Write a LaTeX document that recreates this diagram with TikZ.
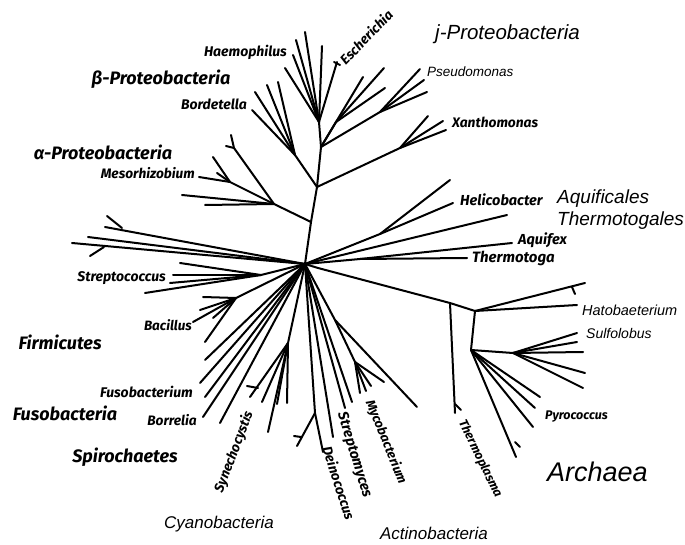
\documentclass[tikz,border=0pt]{standalone}
\usepackage{fontspec}
\setmainfont{Liberation Sans}
\newfontfamily\scanfont{Fira Sans}
\usetikzlibrary{calc}
\tikzset{
    branch/.style={line width=2pt, line cap=round, line join=round},
    taxon/.style={font=\scanfont\bfseries\itshape\fontsize{#1}{#1}\selectfont, inner sep=0pt},
    clade/.style={font=\itshape\fontsize{#1}{#1}\selectfont, inner sep=0pt},
}

\begin{document}
\begin{tikzpicture}[x=1pt, y=-1pt]
    \useasboundingbox (0,0) rectangle (685,545);

    % ── Branch points ──────────────────────────────────────────────────────
    \coordinate (hub) at (305,264);
    \coordinate (rhub) at (318,268);
    \coordinate (alj) at (311,222);
    \coordinate (bgj) at (317,187);
    \coordinate (gmj) at (321,147);
    \coordinate (gam) at (319,122);
    \coordinate (alp) at (274,204);
    \coordinate (alu) at (234,148);
    \coordinate (mes) at (230,182);
    \coordinate (bet) at (295,155);
    \coordinate (psj) at (336,122);
    \coordinate (pse) at (380,112);
    \coordinate (xan) at (400,148);
    \coordinate (str) at (261,275);
    \coordinate (bac) at (236,298);
    \coordinate (cya) at (288,343);
    \coordinate (dei) at (315,413);
    \coordinate (sm1) at (335,320);
    \coordinate (sm2) at (355,362);
    \coordinate (hel) at (380,234);
    \coordinate (aqu) at (360,259);
    \coordinate (ar1) at (450,303);
    \coordinate (ar2) at (475,311);
    \coordinate (ar3) at (471,350);
    \coordinate (ar4) at (513,353);

    % ── Proteobacteria ─────────────────────────────────────────────────────
    \draw[branch] (hub) -- (alj) -- (bgj) -- (gmj) -- (gam);
    \foreach \t in {(285,68),(293,55),(296,40),(305,32),(322,46),(337,62)}
        \draw[branch] (gam) -- \t;
    \draw[branch] (334,62) -- (340,65);
    \draw[branch] (gmj) -- (363,77);
    \draw[branch] (gmj) -- (psj);
    \foreach \t in {(384,68),(385,88)}
        \draw[branch] (psj) -- \t;
    \draw[branch] (gmj) -- (pse);
    \foreach \t in {(420,69),(424,80),(427,92)}
        \draw[branch] (pse) -- \t;
    \draw[branch] (bgj) -- (xan);
    \foreach \t in {(428,116),(443,121),(446,130)}
        \draw[branch] (xan) -- \t;
    \draw[branch] (bgj) -- (bet);
    \foreach \t in {(252,110),(255,92),(267,85),(278,82)}
        \draw[branch] (bet) -- \t;
    \draw[branch] (alj) -- (alp);
    \foreach \t in {(205,205),(182,195)}
        \draw[branch] (alp) -- \t;
    \draw[branch] (alp) -- (alu);
    \foreach \t in {(231,135),(226,146)}
        \draw[branch] (alu) -- \t;
    \draw[branch] (alp) -- (mes);
    \foreach \t in {(199,177),(213,157),(217,173)}
        \draw[branch] (mes) -- \t;

    % ── Left side ──────────────────────────────────────────────────────────
    \foreach \t in {(72,243),(88,237),(105,227)}
        \draw[branch] (hub) -- \t;
    \draw[branch] (122,228) -- (107,216);
    \draw[branch] (90,256) -- (104,247);
    \draw[branch] (hub) -- (str);
    \foreach \t in {(180,263),(173,275),(170,283),(145,293)}
        \draw[branch] (str) -- \t;
    \draw[branch] (hub) -- (bac);
    \foreach \t in {(203,297),(200,310),(193,322),(213,318),(205,342)}
        \draw[branch] (bac) -- \t;
    \foreach \t in {(205,360),(200,383),(205,397),(203,417),(220,423)}
        \draw[branch] (hub) -- \t;

    % ── Cyanobacteria ──────────────────────────────────────────────────────
    \draw[branch] (hub) -- (cya);
    \foreach \t in {(250,397),(262,402),(268,432),(277,404),(287,403)}
        \draw[branch] (cya) -- \t;
    \draw[branch] (258,388) -- (247,386);

    % ── Deinococcus / Actinobacteria ───────────────────────────────────────
    \draw[branch] (hub) -- (dei);
    \foreach \t in {(297,446),(323,452)}
        \draw[branch] (dei) -- \t;
    \draw[branch] (301,437) -- (294,436);
    \foreach \t in {(333,437),(345,408),(352,402)}
        \draw[branch] (hub) -- \t;
    \draw[branch] (hub) -- (sm1) -- (sm2);
    \foreach \t in {(360,393),(366,391),(371,386),(384,382)}
        \draw[branch] (sm2) -- \t;
    \draw[branch] (sm1) -- (417,407);

    % ── Aquificales / Thermotogales ────────────────────────────────────────
    \draw[branch] (hub) -- (hel);
    \foreach \t in {(450,180),(453,203)}
        \draw[branch] (hel) -- \t;
    \draw[branch] (hub) -- (507,215);
    \draw[branch] (hub) -- (aqu);
    \foreach \t in {(512,243),(467,258)}
        \draw[branch] (aqu) -- \t;

    % ── Archaea ────────────────────────────────────────────────────────────
    \draw[branch] (hub) -- (rhub) -- (ar1) -- (ar2);
    \draw[branch] (ar1) -- (455,413);
    \draw[branch] (455,404) -- (461,410);
    \draw[branch] (ar2) -- (585,283);
    \draw[branch] (572,287) -- (575,294);
    \draw[branch] (ar2) -- (577,305);
    \draw[branch] (ar2) -- (ar3) -- (ar4);
    \foreach \t in {(577,333),(577,342),(583,352),(585,373),(583,388)}
        \draw[branch] (ar4) -- \t;
    \foreach \t in {(540,397),(535,408),(533,427),(516,457)}
        \draw[branch] (ar3) -- \t;
    \draw[branch] (515,442) -- (520,447);

    % ── Taxon labels ───────────────────────────────────────────────────────
    \node[taxon=14, anchor=east] (haem) at (287,52) {Haemophilus};
    \node[taxon=13.5, anchor=west, rotate=46] (esch) at (342,62) {Escherichia};
    \node[taxon=14, anchor=east] (bord) at (247,104) {Bordetella};
    \node[taxon=13.7, anchor=east] (meso) at (195,173) {Mesorhizobium};
    \node[taxon=14, anchor=east] (strep) at (166,278) {Streptococcus};
    \node[taxon=13.5, anchor=east] (baci) at (192,325) {Bacillus};
    \node[taxon=14, anchor=east] (fusm) at (193,392) {Fusobacterium};
    \node[taxon=13.7, anchor=east] (borr) at (197,420) {Borrelia};
    \node[taxon=13.5, rotate=69] (syne) at (234,452) {Synechocystis};
    \node[taxon=13.7, rotate=-72] (dein) at (339,483) {Deinococcus};
    \node[taxon=14.4, rotate=-73] (stmy) at (354,455) {Streptomyces};
    \node[taxon=13, rotate=-68] (myco) at (386,442) {Mycobacterium};
    \node[taxon=12.5, rotate=-64] (thpl) at (480,459) {Thermoplasma};
    \node[taxon=13.8, anchor=west] (xant) at (452,122) {Xanthomonas};
    \node[taxon=14.5, anchor=west] (heli) at (460,200) {Helicobacter};
    \node[taxon=14.5, anchor=west] (aqfx) at (518,240) {Aquifex};
    \node[taxon=15, anchor=west] (thtg) at (472,258) {Thermotoga};
    \node[taxon=12.5, anchor=west] (pyro) at (545,417) {Pyrococcus};
    \node[clade=13.5, anchor=west] (pseu) at (427,72) {Pseudomonas};
    \node[clade=14.5, anchor=west] (halo) at (582,310) {Hatobaeterium};
    \node[clade=14, anchor=west] (sulf) at (586,333) {Sulfolobus};

    % ── Group labels ───────────────────────────────────────────────────────
    \node[taxon=18] (beta) at (161,79) {β-Proteobacteria};
    \node[taxon=18] (alph) at (103,152) {α-Proteobacteria};
    \node[taxon=18] (firm) at (60,342) {Firmicutes};
    \node[taxon=18] (fuso) at (65,413) {Fusobacteria};
    \node[taxon=18] (spir) at (125,457) {Spirochaetes};
    \node[clade=20.5, anchor=west] (gamm) at (435,34) {j-Proteobacteria};
    \node[clade=19, anchor=west] (aqui) at (557,199) {Aquificales};
    \node[clade=19, anchor=west] (thmo) at (557,221) {Thermotogales};
    \node[clade=27, anchor=west] (arch) at (547,472) {Archaea};
    \node[clade=17] (cyan) at (219,524) {Cyanobacteria};
    \node[clade=17] (actn) at (434,533) {Actinobacteria};

\end{tikzpicture}
\end{document}
